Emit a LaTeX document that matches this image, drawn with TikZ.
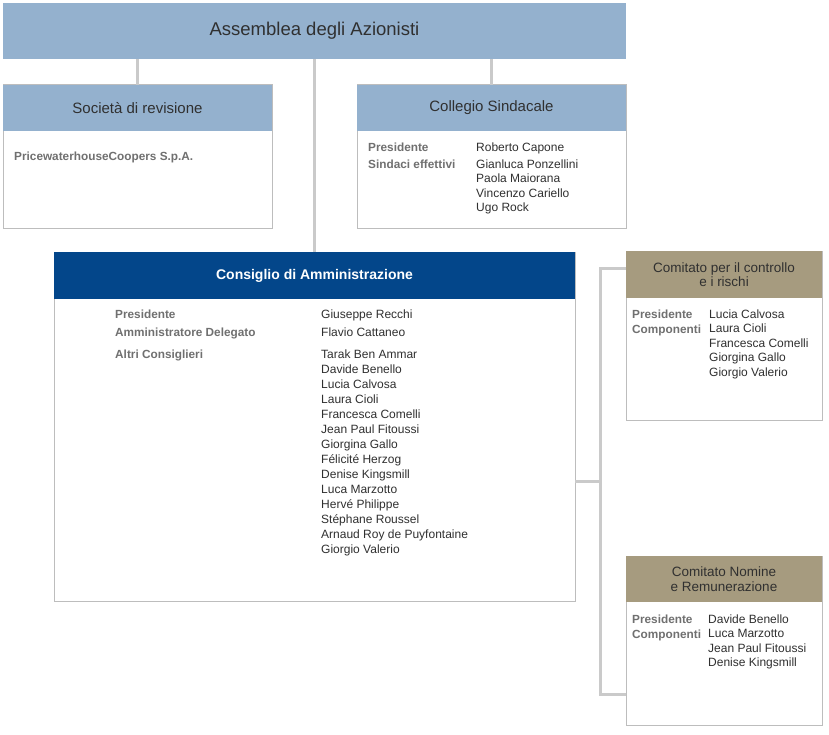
\documentclass[tikz,border=0pt]{standalone}
\usepackage{fontspec}
\setmainfont{Liberation Sans}
\definecolor{hdrblue}{HTML}{94B1CE}
\definecolor{navy}{HTML}{03468A}
\definecolor{tanhdr}{HTML}{A69B7F}
\definecolor{linegray}{HTML}{CACACA}
\definecolor{boxgray}{HTML}{BDBDBD}
\definecolor{labgray}{HTML}{707070}
\definecolor{txtgray}{HTML}{303030}
\begin{document}
\begin{tikzpicture}[x=1pt,y=-1pt,
  panel/.style={draw=boxgray, line width=1pt, fill=white, anchor=north west, inner sep=0pt, outer sep=0pt},
  hdr/.style={anchor=north west, inner sep=0pt, outer sep=0pt, align=center, text=txtgray},
  conn/.style={draw=linegray, line width=3pt},
  lab/.style={anchor=base west, inner sep=0pt, text=labgray, font=\bfseries\fontsize{11.8}{14}\selectfont},
  nm/.style={anchor=base west, inner sep=0pt, text=txtgray, font=\fontsize{12}{15}\selectfont}]
\useasboundingbox (0,0) rectangle (829,735);

% top box
\node[hdr, fill=hdrblue, minimum width=623, minimum height=56, font=\fontsize{18.5}{22}\selectfont] (ass) at (3,3) {Assemblea degli Azionisti};

% Societa di revisione
\node[panel, minimum width=269, minimum height=144] (soc) at (3,85) {};
\node[hdr, fill=hdrblue, minimum width=269, minimum height=46, font=\fontsize{15}{18}\selectfont] (soch) at (soc.north west) {Società di revisione};
\node[lab] (socp) at (14,161) {PricewaterhouseCoopers S.p.A.};

% Collegio Sindacale
\node[panel, minimum width=269, minimum height=144] (col) at (357,85) {};
\node[hdr, fill=hdrblue, minimum width=269, minimum height=46, font=\fontsize{15}{18}\selectfont] (colh) at (col.north west) {Collegio Sindacale};
\node[lab] (colp) at (368,152) {Presidente};
\node[lab] (cols) at (368,168.5) {Sindaci effettivi};
\node[nm] (coln1) at (476,152) {Roberto Capone};
\node[nm] (coln2) at (476,168.5) {Gianluca Ponzellini};
\node[nm] (coln3) at (476,183) {Paola Maiorana};
\node[nm] (coln4) at (476,197.5) {Vincenzo Cariello};
\node[nm] (coln5) at (476,212) {Ugo Rock};

% Consiglio di Amministrazione
\node[panel, minimum width=521, minimum height=349] (cda) at (54,252) {};
\node[hdr, fill=navy, text=white, minimum width=521, minimum height=47, font=\bfseries\fontsize{14}{17}\selectfont] (cdah) at (cda.north west) {Consiglio di Amministrazione};
\node[lab] (cdap) at (115,318) {Presidente};
\node[lab] (cdaa) at (115,336) {Amministratore Delegato};
\node[lab] (cdac) at (115,358) {Altri Consiglieri};
\node[nm] (cdan1) at (321,318) {Giuseppe Recchi};
\node[nm] (cdan2) at (321,336) {Flavio Cattaneo};
\foreach \n [count=\k from 0] in {Tarak Ben Ammar, Davide Benello, Lucia Calvosa, Laura Cioli, Francesca Comelli, Jean Paul Fitoussi, Giorgina Gallo, Félicité Herzog, Denise Kingsmill, Luca Marzotto, Hervé Philippe, Stéphane Roussel, Arnaud Roy de Puyfontaine, Giorgio Valerio}
  \node[nm] (cdam\k) at (321,358+15*\k) {\n};

% Comitato per il controllo e i rischi
\node[panel, minimum width=196, minimum height=169] (ccr) at (626,251) {};
\node[hdr, fill=tanhdr, minimum width=196, minimum height=47, font=\fontsize{13.5}{14.5}\selectfont] (ccrh) at (ccr.north west) {Comitato per il controllo\\e i rischi};
\node[lab] (ccrp) at (632,318) {Presidente};
\node[lab] (ccrc) at (632,333) {Componenti};
\foreach \n [count=\k from 0] in {Lucia Calvosa, Laura Cioli, Francesca Comelli, Giorgina Gallo, Giorgio Valerio}
  \node[nm] (ccrn\k) at (709,318+14.5*\k) {\n};

% Comitato Nomine e Remunerazione
\node[panel, minimum width=196, minimum height=169] (cnr) at (626,556) {};
\node[hdr, fill=tanhdr, minimum width=196, minimum height=46, font=\fontsize{13.5}{14.5}\selectfont] (cnrh) at (cnr.north west) {Comitato Nomine\\e Remunerazione};
\node[lab] (cnrp) at (632,623) {Presidente};
\node[lab] (cnrc) at (632,638) {Componenti};
\foreach \n [count=\k from 0] in {Davide Benello, Luca Marzotto, Jean Paul Fitoussi, Denise Kingsmill}
  \node[nm] (cnrn\k) at (708,623+14.5*\k) {\n};

% connectors
\draw[conn] (soc.north) -- (soc.north |- ass.south);
\draw[conn] (col.north) -- (col.north |- ass.south);
\draw[conn] (cda.north) -- (cda.north |- ass.south);
\coordinate (jt) at (600,268);
\coordinate (jm) at (600,481);
\coordinate (jb) at (600,694);
\draw[conn] (ccr.west |- jt) -- (jt) -- (jb) -- (cnr.west |- jb);
\draw[conn] (cda.east |- jm) -- (jm);
\end{tikzpicture}
\end{document}
